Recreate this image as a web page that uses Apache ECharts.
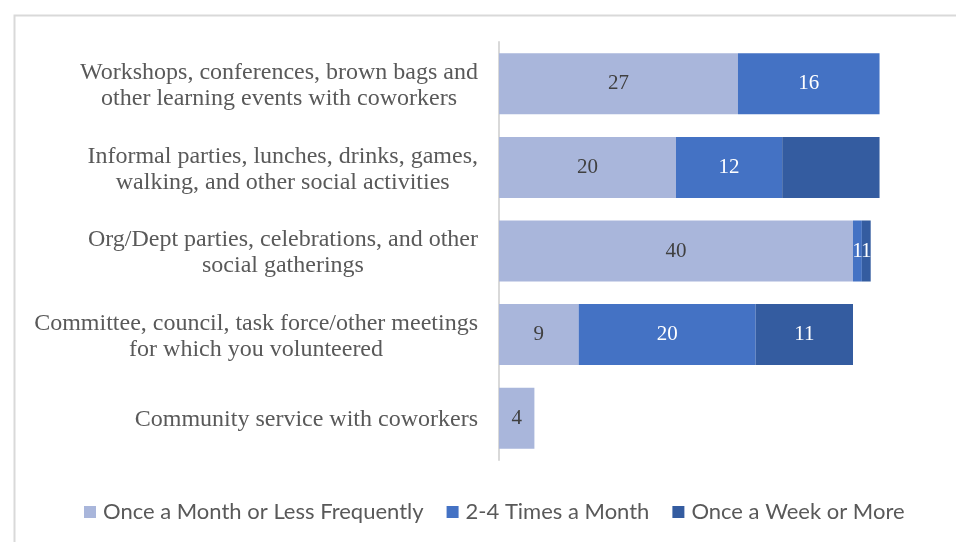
<!DOCTYPE html>
<html>
<head>
<meta charset="utf-8">
<script src="https://cdn.jsdelivr.net/npm/echarts@6/dist/echarts.min.js"></script>
<style>
  html, body { margin: 0; padding: 0; background: #ffffff; }
  #chart { width: 956px; height: 542px; }
</style>
</head>
<body>
<div id="chart"></div>
<script>
// Activity types, top to bottom
const categories = [
  'Workshops, conferences, brown bags and\nother learning events with coworkers',
  'Informal parties, lunches, drinks, games,\nwalking, and other social activities',
  'Org/Dept parties, celebrations, and other\nsocial gatherings',
  'Committee, council, task force/other meetings\nfor which you volunteered',
  'Community service with coworkers'
];

// Participation frequency counts
const seriesNames = ['Once a Month or Less Frequently', '2-4 Times a Month', 'Once a Week or More'];
const onceMonthOrLess = [27, 20, 40, 9, 4];
const twoToFourMonth = [16, 12, 1, 20, null];
const onceWeekOrMore = [null, 11, 1, 11, null];

const serif = '"Liberation Serif", "Times New Roman", serif';
const sans = 'Lato, "Liberation Sans", sans-serif';
const colors = ['#a9b6db', '#4472c4', '#345ca0'];

const chart = echarts.init(document.getElementById('chart'), null, { renderer: 'canvas' });

function barLabel(color) {
  return {
    show: true,
    position: 'inside',
    color: color,
    fontFamily: serif,
    fontSize: 21,
    padding: [4, 0, 0, 0]
  };
}

const option = {
  animation: false,
  backgroundColor: '#ffffff',
  graphic: [{
    type: 'rect',
    left: 12,
    top: 13,
    shape: { x: 0, y: 0, width: 960, height: 540 },
    style: { fill: 'none', stroke: '#d9d9d9', lineWidth: 2 },
    silent: true
  }],
  grid: { left: 499, top: 42, height: 418, width: 442.5 },
  legend: {
    bottom: 14,
    left: 79,
    icon: 'rect',
    itemWidth: 12,
    itemHeight: 12,
    itemGap: 23,
    textStyle: { color: '#595959', fontFamily: sans, fontSize: 22, padding: [0, 0, 0, 2] },
    data: seriesNames
  },
  xAxis: {
    type: 'value',
    min: 0,
    max: 50,
    show: false
  },
  yAxis: {
    type: 'category',
    inverse: true,
    data: categories,
    axisLine: { show: true, lineStyle: { color: '#d9d9d9', width: 2 } },
    axisTick: { show: false },
    axisLabel: {
      margin: 21,
      padding: [4, 0, 0, 0],
      formatter: function (value) {
        return value.split('\n').map(function (s) { return '{c|' + s + '}'; }).join('\n');
      },
      rich: {
        c: {
          align: 'center',
          color: '#595959',
          fontFamily: serif,
          fontSize: 24,
          lineHeight: 26
        }
      }
    }
  },
  series: [
    {
      name: seriesNames[0],
      type: 'bar',
      stack: 'freq',
      barCategoryGap: '27%',
      itemStyle: { color: colors[0] },
      label: barLabel('#404040'),
      data: onceMonthOrLess
    },
    {
      name: seriesNames[1],
      type: 'bar',
      stack: 'freq',
      itemStyle: { color: colors[1] },
      label: barLabel('#ffffff'),
      data: twoToFourMonth
    },
    {
      name: seriesNames[2],
      type: 'bar',
      stack: 'freq',
      itemStyle: { color: colors[2] },
      label: barLabel('#ffffff'),
      data: onceWeekOrMore.map(function (v, i) {
        return i === 1 ? { value: v, label: { show: false } } : v;
      })
    }
  ]
};

chart.setOption(option);
</script>
</body>
</html>
